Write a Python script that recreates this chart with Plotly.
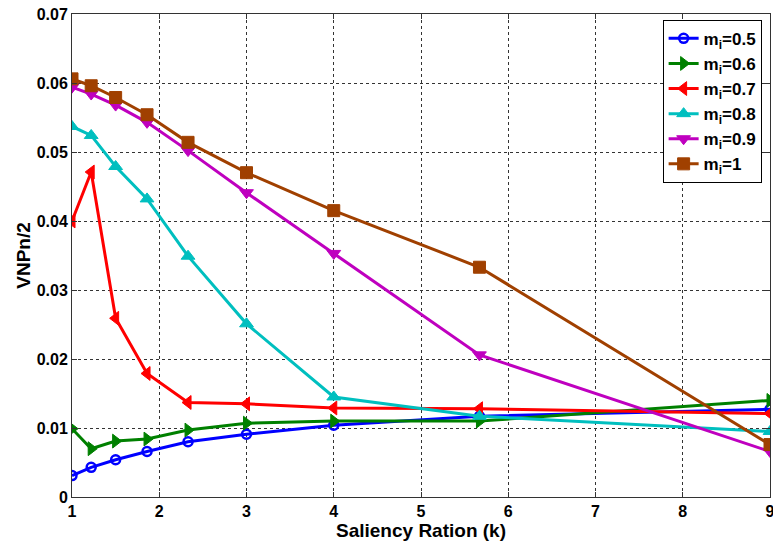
import plotly.graph_objects as go

k = [1, 1.22, 1.5, 1.86, 2.33, 3, 4, 5.67, 9]

m05 = [0.0031, 0.0043, 0.0054, 0.0066, 0.0080, 0.0091, 0.0104, 0.0117, 0.0127]
m06 = [0.0099, 0.0070, 0.0081, 0.0084, 0.0097, 0.0107, 0.0110, 0.0110, 0.0140]
m07 = [0.0400, 0.0471, 0.0259, 0.0179, 0.0137, 0.0135, 0.0129, 0.0128, 0.0121]
m08 = [0.0537, 0.0524, 0.0479, 0.0432, 0.0349, 0.0251, 0.0145, 0.0117, 0.0095]
m09 = [0.0594, 0.0584, 0.0568, 0.0543, 0.0502, 0.0441, 0.0353, 0.0206, 0.0066]
m10 = [0.0606, 0.0596, 0.0579, 0.0554, 0.0514, 0.0470, 0.0415, 0.0333, 0.0076]

names = ["<b>m<sub>i</sub>=0.5</b>", "<b>m<sub>i</sub>=0.6</b>", "<b>m<sub>i</sub>=0.7</b>",
         "<b>m<sub>i</sub>=0.8</b>", "<b>m<sub>i</sub>=0.9</b>", "<b>m<sub>i</sub>=1</b>"]
series = [m05, m06, m07, m08, m09, m10]
colors = ["#0000FF", "#008000", "#FF0000", "#00BFBF", "#BF00BF", "#A04000"]
symbols = ["circle-open", "triangle-right", "triangle-left", "triangle-up",
           "triangle-down", "square"]

yticks = [0, 0.01, 0.02, 0.03, 0.04, 0.05, 0.06, 0.07]
yticktext = ["0", "0.01", "0.02", "0.03", "0.04", "0.05", "0.06", "0.07"]
xticks = [1, 2, 3, 4, 5, 6, 7, 8, 9]
xticktext = ["1", "2", "3", "4", "5", "6", "7", "8", "9"]

fig = go.Figure()
for name, ys, c, s in zip(names, series, colors, symbols):
    fig.add_trace(go.Scatter(
        x=k, y=ys, name=name, mode="lines+markers",
        line=dict(color=c, width=3),
        marker=dict(symbol=s, size=12 if s != "circle-open" else 9, color=c,
                    line=dict(color=c, width=2.5 if s == "circle-open" else 1)),
    ))

font_family = "Liberation Sans, Arial, sans-serif"
fig.update_layout(
    width=773, height=541,
    margin=dict(l=72, r=3, t=14, b=44, autoexpand=False),
    paper_bgcolor="white", plot_bgcolor="white",
    font=dict(family=font_family, size=16, color="black"),
    showlegend=True,
    legend=dict(x=0.988, y=0.988, xanchor="right", yanchor="top",
                bgcolor="white", bordercolor="black", borderwidth=1,
                font=dict(family=font_family, size=17, color="black"),
                tracegroupgap=0, itemwidth=30),
    xaxis=dict(range=[1, 9], tickvals=xticks,
               ticktext=["<b>%s</b>" % t for t in xticktext],
               ticklabeloverflow="allow",
               showgrid=True, gridcolor="#333333", griddash="dot", gridwidth=1,
               showline=True, linecolor="#333333", linewidth=1, mirror="ticks",
               ticks="inside", ticklen=5, tickcolor="#333333",
               zeroline=False,
               tickfont=dict(family=font_family, size=16, color="black"),
               title=dict(text="<b>Saliency Ration (k)</b>", standoff=2,
                          font=dict(family=font_family, size=19, color="black"))),
    yaxis=dict(range=[0, 0.07], tickvals=yticks,
               ticktext=["<b>%s</b>" % t for t in yticktext],
               ticklabeloverflow="allow",
               showgrid=True, gridcolor="#333333", griddash="dot", gridwidth=1,
               showline=True, linecolor="#333333", linewidth=1, mirror="ticks",
               ticks="inside", ticklen=5, tickcolor="#333333",
               zeroline=False,
               tickfont=dict(family=font_family, size=16, color="black"),
               title=dict(text="<b>VNPn/2</b>", standoff=1,
                          font=dict(family=font_family, size=19, color="black"))),
)

fig.write_html("out.html")
